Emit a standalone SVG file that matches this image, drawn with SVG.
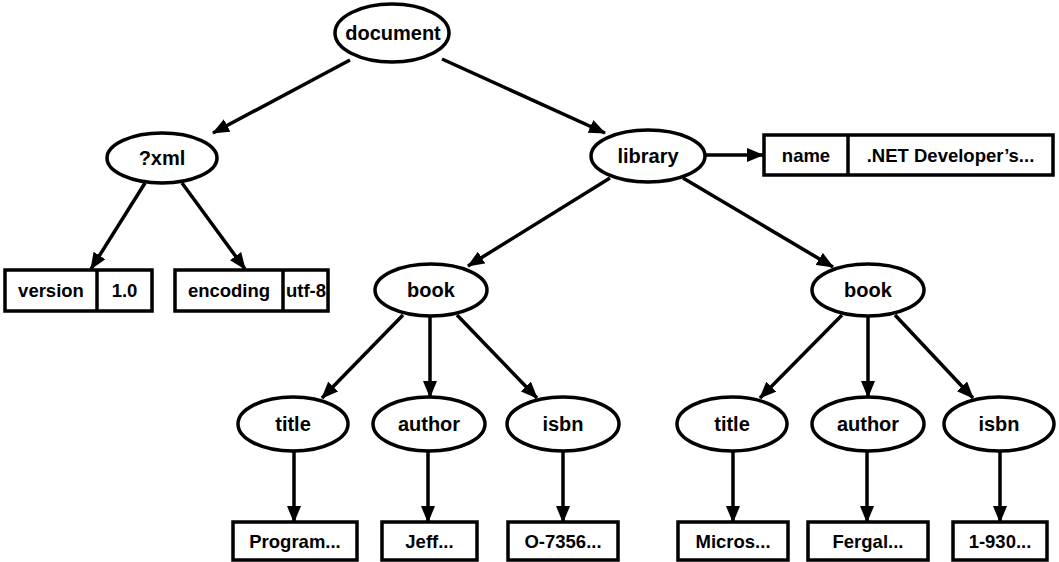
<svg xmlns="http://www.w3.org/2000/svg" width="1059" height="562" viewBox="0 0 1059 562">
<style>
.n ellipse{fill:#fff;stroke:#000;stroke-width:3.5}
.n rect{fill:#fff;stroke:#000;stroke-width:3.5}
.n line{stroke:#000;stroke-width:3.5}
.e{font-family:"Liberation Sans",Arial,sans-serif;font-weight:bold;font-size:20px;text-anchor:middle;fill:#000}
.b{font-family:"Liberation Sans",Arial,sans-serif;font-weight:bold;font-size:18.5px;text-anchor:middle;fill:#000}
#edges line{stroke:#000;stroke-width:3.5;marker-end:url(#ah)}
</style>
<defs>
<marker id="ah" markerUnits="userSpaceOnUse" markerWidth="17" markerHeight="14" refX="16" refY="7" orient="auto">
<path d="M0,0 L17,7 L0,14 z" fill="#000"/>
</marker>
</defs>
<rect width="1059" height="562" fill="#fff"/>
<g id="edges">
<line x1="350" y1="60" x2="213" y2="133"/>
<line x1="442" y1="59" x2="605" y2="133"/>
<line x1="145" y1="183" x2="91" y2="269"/>
<line x1="182" y1="183" x2="245" y2="269"/>
<line x1="705" y1="155" x2="763" y2="155"/>
<line x1="610" y1="178" x2="468" y2="266"/>
<line x1="683" y1="178" x2="833" y2="267"/>
<line x1="403" y1="315" x2="322" y2="398"/>
<line x1="430" y1="316" x2="430" y2="397"/>
<line x1="457" y1="315" x2="537" y2="398"/>
<line x1="842" y1="315" x2="760" y2="398"/>
<line x1="868" y1="316" x2="868" y2="397"/>
<line x1="895" y1="315" x2="973" y2="398"/>
<line x1="294" y1="451" x2="294" y2="522"/>
<line x1="428" y1="451" x2="428" y2="522"/>
<line x1="563" y1="451" x2="563" y2="522"/>
<line x1="733" y1="451" x2="733" y2="522"/>
<line x1="867" y1="451" x2="867" y2="522"/>
<line x1="1000" y1="451" x2="1000" y2="522"/>
</g>
<g id="document" class="n"><ellipse cx="392" cy="33" rx="57" ry="29"/><text class="e" x="393" y="40">document</text></g>
<g id="xml" class="n"><ellipse cx="162" cy="158" rx="55" ry="25"/><text class="e" x="162" y="165">?xml</text></g>
<g id="library" class="n"><ellipse cx="648" cy="156" rx="57" ry="26"/><text class="e" x="648" y="163">library</text></g>
<g id="version" class="n"><rect x="5" y="270" width="147" height="41"/><line x1="97" y1="270" x2="97" y2="311"/><text class="b" x="51" y="297">version</text><text class="b" x="124.5" y="297">1.0</text></g>
<g id="encoding" class="n"><rect x="175" y="270" width="153" height="41"/><line x1="283" y1="270" x2="283" y2="311"/><text class="b" x="229" y="297">encoding</text><text class="b" x="306" y="297">utf-8</text></g>
<g id="name" class="n"><rect x="764" y="135" width="289" height="40"/><line x1="848" y1="135" x2="848" y2="175"/><text class="b" x="806" y="161.5">name</text><text class="b" x="950.5" y="161.5">.NET Developer’s...</text></g>
<g id="book1" class="n"><ellipse cx="431" cy="290" rx="56" ry="26"/><text class="e" x="431" y="297">book</text></g>
<g id="book2" class="n"><ellipse cx="868" cy="290" rx="56" ry="26"/><text class="e" x="868" y="297">book</text></g>
<g id="title1" class="n"><ellipse cx="293" cy="424" rx="55" ry="27"/><text class="e" x="293" y="431">title</text></g>
<g id="author1" class="n"><ellipse cx="429" cy="424" rx="56" ry="27"/><text class="e" x="429" y="431">author</text></g>
<g id="isbn1" class="n"><ellipse cx="563" cy="424" rx="56" ry="27"/><text class="e" x="563" y="431">isbn</text></g>
<g id="title2" class="n"><ellipse cx="732" cy="424" rx="55" ry="27"/><text class="e" x="732" y="431">title</text></g>
<g id="author2" class="n"><ellipse cx="868" cy="424" rx="56" ry="27"/><text class="e" x="868" y="431">author</text></g>
<g id="isbn2" class="n"><ellipse cx="999" cy="424" rx="55" ry="27"/><text class="e" x="999" y="431">isbn</text></g>
<g id="v1" class="n"><rect x="233" y="522" width="124" height="38"/><text class="b" x="295" y="547.5">Program...</text></g>
<g id="v2" class="n"><rect x="382" y="522" width="95" height="38"/><text class="b" x="429.5" y="547.5">Jeff...</text></g>
<g id="v3" class="n"><rect x="508" y="522" width="110" height="38"/><text class="b" x="563" y="547.5">O-7356...</text></g>
<g id="v4" class="n"><rect x="678" y="522" width="110" height="38"/><text class="b" x="733" y="547.5">Micros...</text></g>
<g id="v5" class="n"><rect x="808" y="522" width="120" height="38"/><text class="b" x="868" y="547.5">Fergal...</text></g>
<g id="v6" class="n"><rect x="953" y="522" width="94" height="38"/><text class="b" x="1000" y="547.5">1-930...</text></g>
</svg>
